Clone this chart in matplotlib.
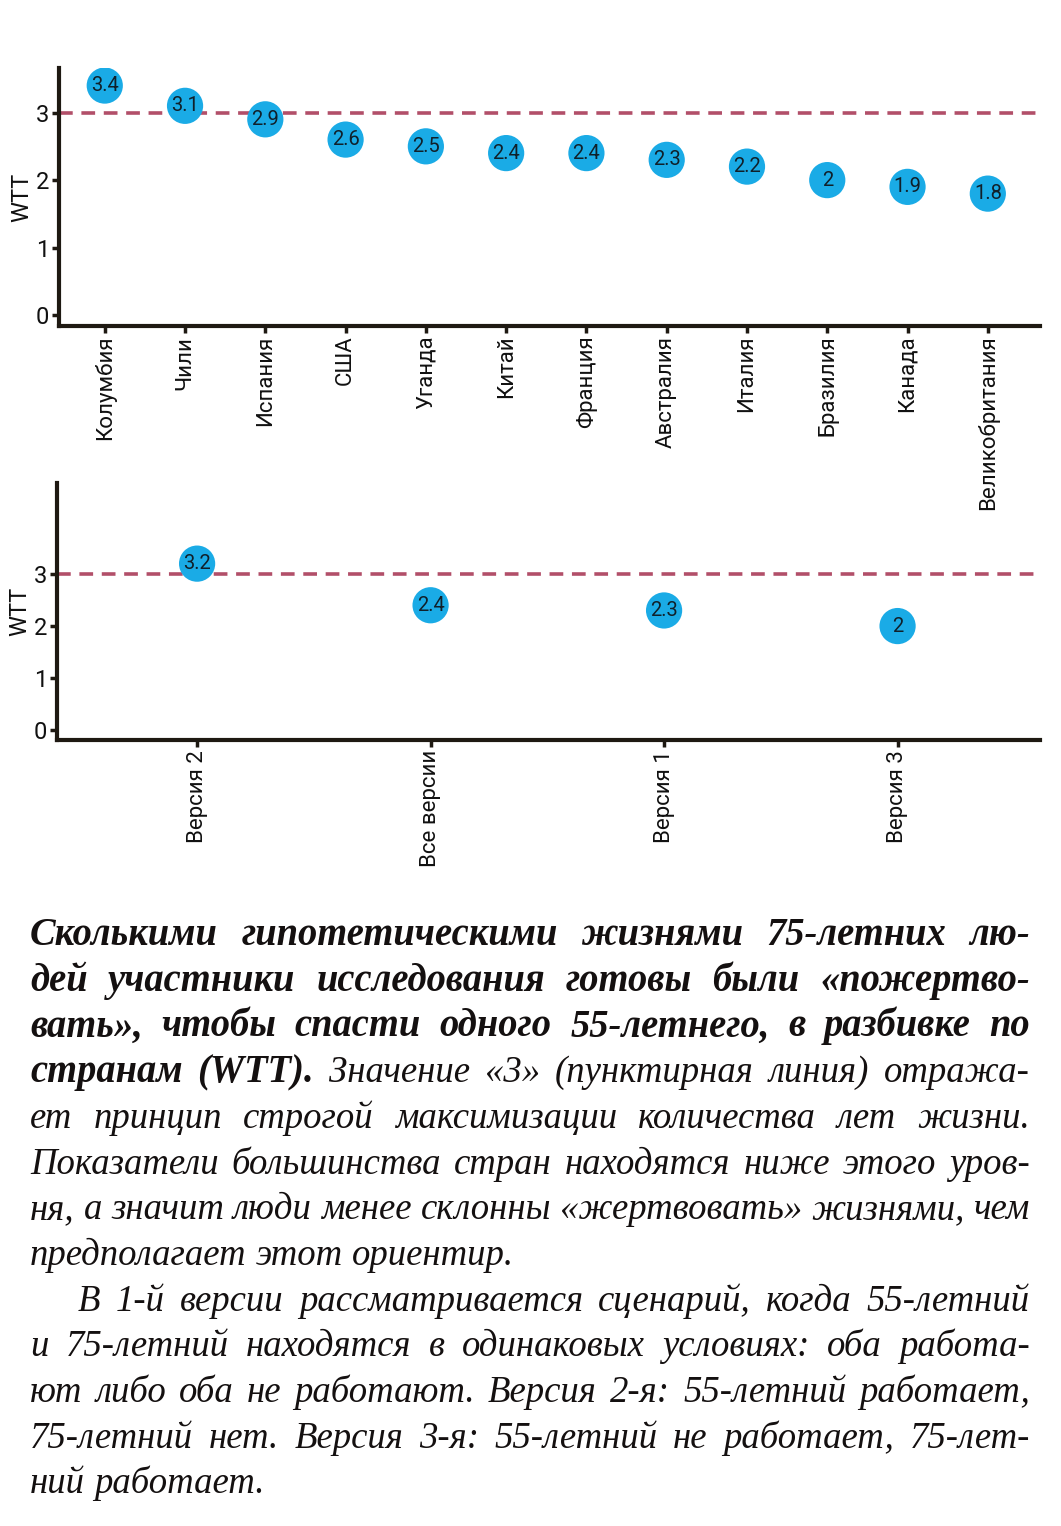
import matplotlib
matplotlib.use('Agg')
import matplotlib.pyplot as plt

# data
countries = ['Колумбия', 'Чили', 'Испания', 'США', 'Уганда', 'Китай', 'Франция',
             'Австралия', 'Италия', 'Бразилия', 'Канада', 'Великобритания']
wtt_country = [3.4, 3.1, 2.9, 2.6, 2.5, 2.4, 2.4, 2.3, 2.2, 2.0, 1.9, 1.8]
versions = ['Версия 2', 'Все версии', 'Версия 1', 'Версия 3']
wtt_version = [3.2, 2.4, 2.3, 2.0]
threshold = 3
yticks = [0, 1, 2, 3]

# caption: lines of (text, bold) pieces, justified, indent
caption = [
    ([('Сколькими гипотетическими жизнями 75-летних лю-', True)], True, 0),
    ([('дей участники исследования готовы были «пожертво-', True)], True, 0),
    ([('вать», чтобы спасти одного 55-летнего, в разбивке по', True)], True, 0),
    ([('странам (WTT).', True), ('Значение «3» (пунктирная линия) отража-', False)], True, 0),
    ([('ет принцип строгой максимизации количества лет жизни.', False)], True, 0),
    ([('Показатели большинства стран находятся ниже этого уров-', False)], True, 0),
    ([('ня, а значит люди менее склонны «жертвовать» жизнями, чем', False)], True, 0),
    ([('предполагает этот ориентир.', False)], False, 0),
    ([('В 1-й версии рассматривается сценарий, когда 55-летний', False)], True, 48),
    ([('и 75-летний находятся в одинаковых условиях: оба работа-', False)], True, 0),
    ([('ют либо оба не работают. Версия 2-я: 55-летний работает,', False)], True, 0),
    ([('75-летний нет. Версия 3-я: 55-летний не работает, 75-лет-', False)], True, 0),
    ([('ний работает.', False)], False, 0),
]

W, H = 1061, 1526
dot_color = '#1aabe6'
dash_color = '#b24f69'
ink = '#1e1912'
tick_font = ['Roboto', 'DejaVu Sans']

fig = plt.figure(figsize=(W / 100, H / 100), dpi=100)
fig.patch.set_facecolor('white')


def dot_panel(rect, labels, values, xlim, ylim):
    ax = fig.add_axes(rect)
    ax.set_facecolor('none')
    xs = list(range(len(labels)))
    ax.axhline(threshold, color=dash_color, lw=2.6, dashes=(3.8, 2.4), zorder=1)
    ax.scatter(xs, values, s=680, color=dot_color, edgecolors='none', zorder=3)
    for x, v in zip(xs, values):
        ax.text(x, v, f'{v:g}', ha='center', va='center', fontsize=14.5,
                family=tick_font, color='#10202a', zorder=4)
    ax.set_xlim(*xlim)
    ax.set_ylim(*ylim)
    ax.set_xticks(xs)
    ax.set_xticklabels(labels, rotation=90, fontsize=16, family='Roboto', color='#111111')
    ax.set_yticks(yticks)
    ax.set_yticklabels([str(t) for t in yticks], fontsize=17, family=tick_font, color='#111111')
    ax.set_ylabel('WTT', fontsize=17, family=tick_font, color='#111111', labelpad=2)
    for side in ['top', 'right']:
        ax.spines[side].set_visible(False)
    for side in ['left', 'bottom']:
        ax.spines[side].set_linewidth(3)
        ax.spines[side].set_color(ink)
    ax.tick_params(axis='both', length=5, width=2.5, color=ink, pad=2)
    return ax


dot_panel([59 / W, 1 - 326 / H, 981 / W, 258 / H], countries, wtt_country,
          (-0.57, 11.65), (-0.16, 3.66))
dot_panel([57 / W, 1 - 740 / H, 983 / W, 257 / H], versions, wtt_version,
          (-0.6, 3.61), (-0.19, 4.75))

# caption, laid out word by word so it can be justified like the print
renderer = fig.canvas.get_renderer()
left, right = 30, 1030
base0, step = 945, 45.7


def lay_caption(size):
    texts = []
    worst = 0
    for i, (pieces, justify, indent) in enumerate(caption):
        words = []
        for txt, bold in pieces:
            for w in txt.split():
                t = fig.text(0, 0, w, fontsize=size * (1.05 if bold else 1),
                             family='Liberation Serif', style='italic',
                             weight='bold' if bold else 'normal',
                             color='#141010', va='baseline', ha='left')
                texts.append(t)
                words.append((t, t.get_window_extent(renderer).width))
        total = sum(w for _, w in words)
        gap_min = size * 100 / 72 * 0.25
        width = right - left - indent
        if justify and len(words) > 1:
            gap = (width - total) / (len(words) - 1)
        else:
            gap = gap_min
        worst = max(worst, (total + gap_min * (len(words) - 1)) / width)
        x = left + indent
        y = 1 - (base0 + i * step) / H
        for t, w in words:
            t.set_position((x / W, y))
            x += w + gap
    return texts, worst


size = 27
texts, worst = lay_caption(size)
if worst > 1:
    for t in texts:
        t.remove()
    texts, worst = lay_caption(size / worst)

fig.savefig('out.png', dpi=100, facecolor='white')
